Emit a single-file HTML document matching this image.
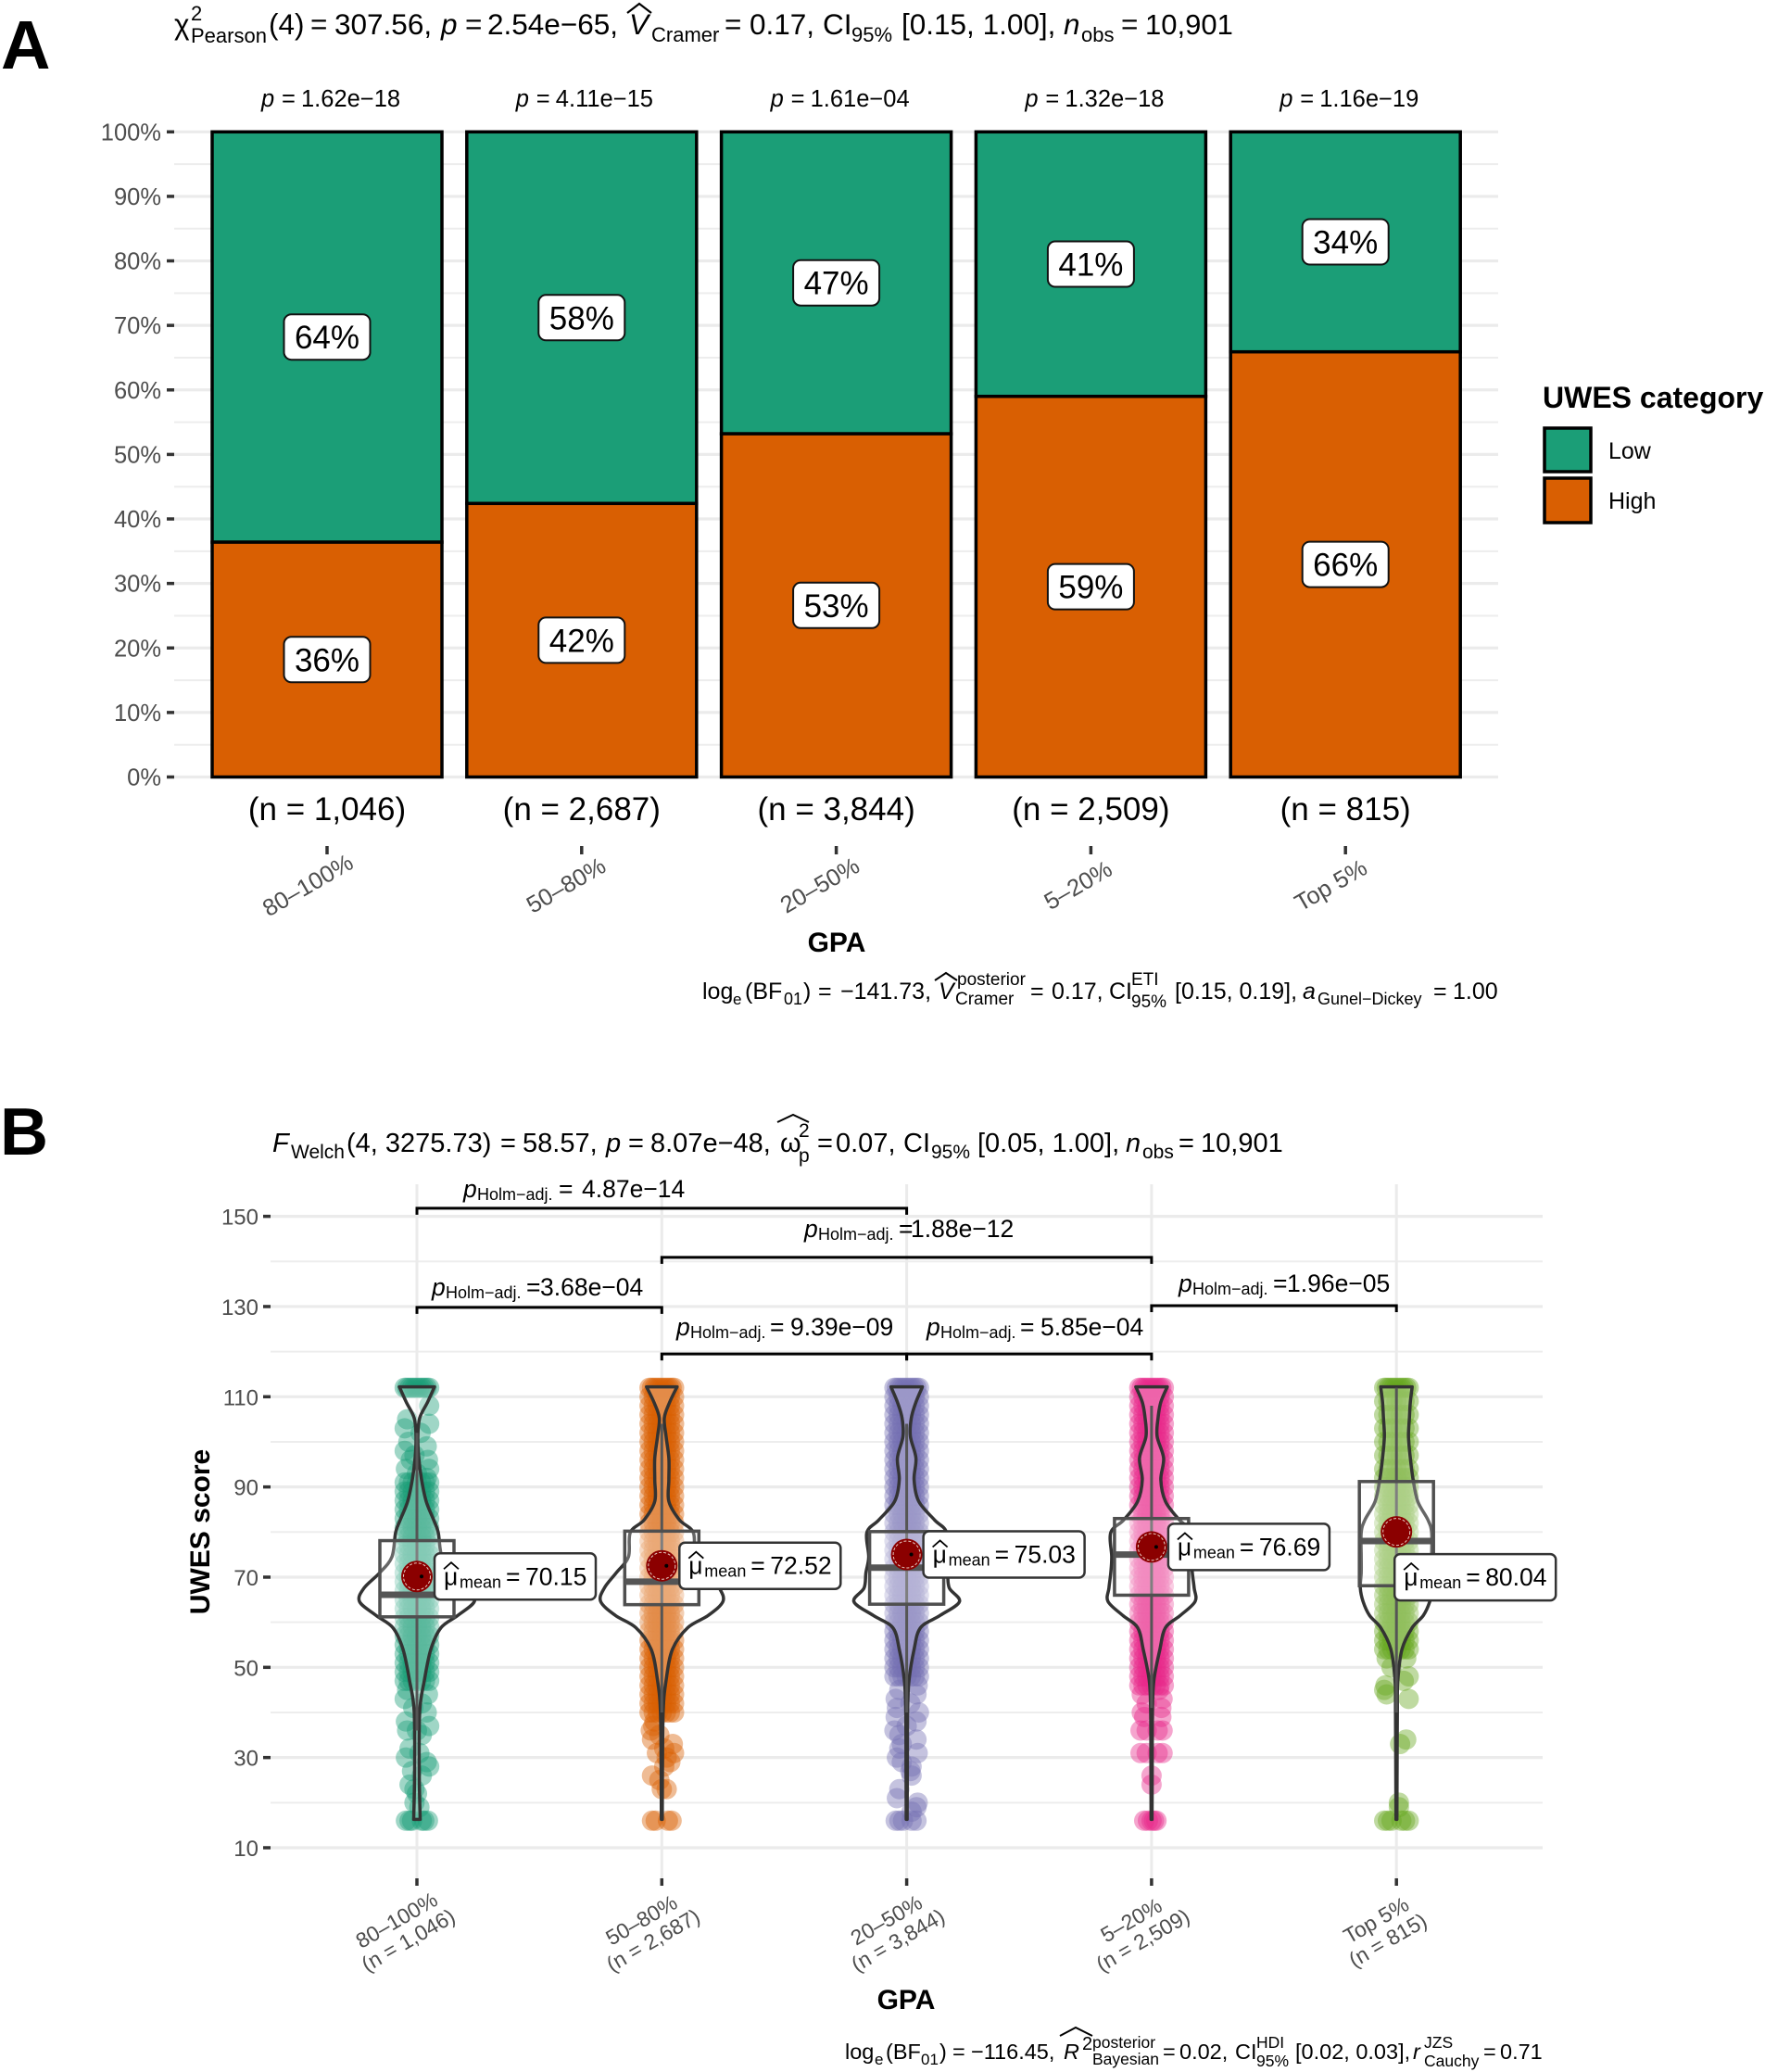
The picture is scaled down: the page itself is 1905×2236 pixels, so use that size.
<!DOCTYPE html>
<html lang="en">
<head>
<meta charset="utf-8">
<title>UWES score by GPA</title>
<style>
html,body{margin:0;padding:0;background:#fff}
svg{display:block;font-family:"Liberation Sans",Arial,sans-serif}
text{fill:#000}
.i{font-style:italic}
</style>
</head>
<body>
<svg id="fig" xmlns="http://www.w3.org/2000/svg" width="1905" height="2236" viewBox="0 0 1905 2236">
<rect x="0" y="0" width="1905" height="2236" fill="#fff"/>

<text x="1" y="74" font-size="74" font-weight="700">A</text>
<text x="0" y="1246" font-size="72" font-weight="700">B</text>

<g id="panelA"></g>
<g id="panelB"></g>

<!-- Panel A title -->
<g>
<text font-size="31.5" y="37">
<tspan x="188" y="37">χ</tspan><tspan x="206" y="22" font-size="22">2</tspan><tspan x="206" y="46" font-size="22">Pearson</tspan>
<tspan x="290" y="37">(4)</tspan><tspan x="335">=</tspan><tspan x="361">307.56,</tspan>
<tspan x="476" class="i">p</tspan><tspan x="502">=</tspan><tspan x="526">2.54e−65,</tspan>
<tspan x="679" class="i">V</tspan><tspan x="703" y="45" font-size="22">Cramer</tspan>
<tspan x="782" y="37">=</tspan><tspan x="809">0.17,</tspan><tspan x="888">CI</tspan>
<tspan x="919" y="45" font-size="22">95%</tspan><tspan x="973" y="37">[0.15, 1.00],</tspan>
<tspan x="1148" class="i">n</tspan><tspan x="1167" y="45" font-size="22">obs</tspan>
<tspan x="1210" y="37">=</tspan><tspan x="1236" font-size="31">10,901</tspan>
</text>
<polyline points="677,14 690,4 703,14" fill="none" stroke="#000" stroke-width="2.2"/>
</g>

<!-- Panel A footer -->
<g>
<text font-size="25" y="1078">
<tspan x="758" y="1078">log</tspan><tspan x="791" y="1084" font-size="17">e</tspan><tspan x="804" y="1078">(BF</tspan><tspan x="846" y="1084" font-size="18">01</tspan><tspan x="867" y="1078">)</tspan>
<tspan x="883">=</tspan><tspan x="907">−141.73,</tspan><tspan x="1013" class="i">V</tspan>
<tspan x="1033" y="1063" font-size="19">posterior</tspan><tspan x="1031" y="1084" font-size="19">Cramer</tspan>
<tspan x="1112" y="1078">=</tspan><tspan x="1135">0.17,</tspan><tspan x="1197">CI</tspan>
<tspan x="1221" y="1063" font-size="19">ETI</tspan><tspan x="1221" y="1087" font-size="19">95%</tspan>
<tspan x="1268" y="1078">[0.15, 0.19],</tspan><tspan x="1406" class="i">a</tspan>
<tspan x="1422" y="1084" font-size="18">Gunel−Dickey</tspan>
<tspan x="1547" y="1078">=</tspan><tspan x="1568">1.00</tspan>
</text>
<polyline points="1009,1058 1021,1050 1033,1058" fill="none" stroke="#000" stroke-width="2"/>
</g>

<!-- Panel B title -->
<g>
<text font-size="29" y="1243">
<tspan x="294" y="1243" class="i">F</tspan><tspan x="314" y="1250" font-size="21">Welch</tspan>
<tspan x="374" y="1243">(4, 3275.73)</tspan><tspan x="540">=</tspan><tspan x="564">58.57,</tspan>
<tspan x="654" class="i">p</tspan><tspan x="678">=</tspan><tspan x="702">8.07e−48,</tspan>
<tspan x="842">ω</tspan><tspan x="862" y="1227" font-size="21">2</tspan><tspan x="862" y="1254" font-size="21">p</tspan>
<tspan x="882" y="1243">=</tspan><tspan x="902">0.07,</tspan><tspan x="975">CI</tspan>
<tspan x="1005" y="1250" font-size="21">95%</tspan><tspan x="1055" y="1243">[0.05, 1.00],</tspan>
<tspan x="1215" class="i">n</tspan><tspan x="1233" y="1250" font-size="21">obs</tspan>
<tspan x="1272" y="1243">=</tspan><tspan x="1296">10,901</tspan>
</text>
<polyline points="839,1211 856,1203 873,1211" fill="none" stroke="#000" stroke-width="2"/>
</g>

<!-- Panel B bracket labels -->
<g font-size="26.5">
<text><tspan x="500" y="1292" class="i">p</tspan><tspan x="515" y="1295" font-size="18">Holm−adj.</tspan><tspan x="603" y="1292">=</tspan><tspan x="628">4.87e−14</tspan></text>
<text><tspan x="868" y="1335" class="i">p</tspan><tspan x="883" y="1338" font-size="18">Holm−adj.</tspan><tspan x="970" y="1335">=</tspan><tspan x="983">1.88e−12</tspan></text>
<text><tspan x="466" y="1398" class="i">p</tspan><tspan x="481" y="1401" font-size="18">Holm−adj.</tspan><tspan x="568" y="1398">=</tspan><tspan x="583">3.68e−04</tspan></text>
<text><tspan x="730" y="1441" class="i">p</tspan><tspan x="745" y="1444" font-size="18">Holm−adj.</tspan><tspan x="831" y="1441">=</tspan><tspan x="853">9.39e−09</tspan></text>
<text><tspan x="1000" y="1441" class="i">p</tspan><tspan x="1015" y="1444" font-size="18">Holm−adj.</tspan><tspan x="1101" y="1441">=</tspan><tspan x="1123">5.85e−04</tspan></text>
<text><tspan x="1272" y="1394" class="i">p</tspan><tspan x="1287" y="1397" font-size="18">Holm−adj.</tspan><tspan x="1374" y="1394">=</tspan><tspan x="1389">1.96e−05</tspan></text>
</g>

<!-- Panel B footer -->
<g>
<text font-size="23.5" y="2222">
<tspan x="912" y="2222">log</tspan><tspan x="944" y="2228" font-size="17">e</tspan><tspan x="956" y="2222">(BF</tspan><tspan x="994" y="2228" font-size="17">01</tspan><tspan x="1014" y="2222">)</tspan>
<tspan x="1028">=</tspan><tspan x="1048">−116.45,</tspan>
<tspan x="1148" class="i">R</tspan><tspan x="1168" y="2212" font-size="20">2</tspan>
<tspan x="1179" y="2210" font-size="17.5">posterior</tspan><tspan x="1179" y="2228" font-size="17.5">Bayesian</tspan>
<tspan x="1255" y="2222">=</tspan><tspan x="1273">0.02,</tspan><tspan x="1333">CI</tspan>
<tspan x="1356" y="2210" font-size="17.5">HDI</tspan><tspan x="1356" y="2230" font-size="17.5">95%</tspan>
<tspan x="1398" y="2222">[0.02, 0.03],</tspan><tspan x="1525" class="i">r</tspan>
<tspan x="1537" y="2210" font-size="17.5">JZS</tspan><tspan x="1537" y="2230" font-size="17.5">Cauchy</tspan>
<tspan x="1601" y="2222">=</tspan><tspan x="1619">0.71</tspan>
</text>
<polyline points="1144,2197 1161,2188 1179,2197" fill="none" stroke="#000" stroke-width="2"/>
</g>

<!-- Legend -->
<g>
<text x="1665" y="440" font-size="32" font-weight="700">UWES category</text>
<rect x="1667" y="462" width="50" height="47" fill="#1B9E77" stroke="#000" stroke-width="3.5"/>
<rect x="1667" y="516" width="50" height="48" fill="#D95F02" stroke="#000" stroke-width="3.5"/>
<text x="1736" y="495" font-size="25">Low</text>
<text x="1736" y="549" font-size="25">High</text>
</g>
</svg>

<script>
// ---------- Panel A data ----------
const gpaCategories = ['80–100%', '50–80%', '20–50%', '5–20%', 'Top 5%'];
const groupSizes = ['1,046', '2,687', '3,844', '2,509', '815'];
const highShare = [36.4, 42.4, 53.2, 59.0, 65.9];
const pValuesA = ['1.62e−18', '4.11e−15', '1.61e−04', '1.32e−18', '1.16e−19'];
const percentTicks = [0, 10, 20, 30, 40, 50, 60, 70, 80, 90, 100];
const percentMinorTicks = [5, 15, 25, 35, 45, 55, 65, 75, 85, 95];

// ---------- Panel B data ----------
const scoreTicks = [10, 30, 50, 70, 90, 110, 130, 150];
const scoreMinorTicks = [20, 40, 60, 80, 100, 120, 140];
const means = [70.15, 72.52, 75.03, 76.69, 80.04];
const q1 = [61.2, 63.9, 64.0, 66.0, 68.1];
const medians = [66.1, 69.0, 72.1, 75.0, 78.0];
const q3 = [78.1, 80.2, 80.1, 83.0, 91.2];
const whiskerLow = [36, 40, 40, 41, 40];
const whiskerHigh = [102, 104, 104, 108, 112];
const bracketFrom = [0, 1, 0, 1, 2, 3];
const bracketTo = [2, 3, 1, 2, 3, 4];
const bracketLevel = [151.8, 140.9, 129.8, 119.5, 119.5, 130.2];

// violin density profile, shared score grid
const violinScores = [112.2,108.8,105.3,101.2,96.4,91.6,86.8,82.7,79.9,74.5,71,67.6,64.6,61.5,58.8,54,47.1,40.3,26.6,16.3];
const densityG1 = [19,11.5,3,1,2,5,10,18,23,27,40,57,62,44,26,15,8,3,2.5,3.5];
const densityG2 = [16.5,8.5,2.7,4.6,7.6,7.6,7.6,19,34,36,49,62,66,50,28,11.5,4.6,1.5,0.7,0.5];
const densityG3 = [17,10,5,4,10,8,13,30,43,41,44,46,57,36,15,8,2.5,1,0.7,0.5];
const densityG4 = [17,10,7,6,13,10,15,30,44,43,44,46,47,31,15,9,2.5,1,0.7,0.5];
const densityG5 = [17,15,14,13,15,18,23,34,38,38,38,39,36,29,17,6,1.5,1,0.7,0.5];

// jittered raw scores: ceiling row, dense core rows
const ceilingScore = 112;
const ceilingJitter = [-5,-4,-3,-2,-1,0,1,2,3,4,5];
const coreG1 = [47,49,51,53,55,57,59,61,63,65,67,69,71,73,75,77,79,81,83,85,87,89,91];
const coreG2 = [40,42,44,46,48,50,52,54,56,58,60,62,64,66,68,70,72,74,76,78,80,82,84,86,88,90,92,94,96,98,100,102,104,106,108,110];
const coreG3 = [48,50,52,54,56,58,60,62,64,66,68,70,72,74,76,78,80,82,84,86,88,90,92,94,96,98,100,102,104,106,108,110];
const coreG4 = [46,48,50,52,54,56,58,60,62,64,66,68,70,72,74,76,78,80,82,84,86,88,90,92,94,96,98,100,102,104,106,108,110];
const coreG5 = [54,56,58,60,62,64,66,68,70,72,74,76,78,80,82,84,86,88,90,92,94,97,100,103,106,109];
const coreJitter = [-5, -3.3, -1.7, 0, 1.7, 3.3, 5];

// jittered raw scores: individually visible points [score, jitter]
const tailG1 = [[108,5],[105,-4],[104,5],[103,-5],[102,1.5],[100,-3.5],[99,4],[98,-5],[97,-1],[96,4.5],[96,-2.5],[94,5],[94,-4.5],[93,0],[92,4],[45,-4],[44,4.5],[43,-5],[42,2],[41,-1.5],[40,4],[38,-4.5],[37,5],[36,-4],[36,0],[35,2],[32,-3],[31,1],[30,-4.5],[29,4],[28,5],[27,-2],[26,2],[24,-3],[23,-1],[22,0],[20,-1],[19,1],[16,-4.5],[16,-3],[16,-2],[16,2],[16,3],[16,4.5]];
const tailG2 = [[38,-3],[37,-3.5],[36,-4.5],[35,-1],[34,-4],[33,4.5],[32,1],[31,-2],[31,5],[30,2],[29,3.5],[28,1],[26,-4],[25,-1],[23,0],[23,2],[16,-4],[16,-2.5],[16,2.5],[16,4]];
const tailG3 = [[46,4.5],[45,-3],[44,4],[43,-4.5],[42,1.5],[41,-4],[40,5],[39,-4.5],[38,4],[37,0],[36,-5],[35,-3],[34,4],[33,-2],[32,-3],[31,4.5],[30,-4],[29,-2],[28,2],[27,1.5],[26,2],[23,-3],[21,-4],[20,4.5],[19,4],[18,2],[16,-4.5],[16,-3],[16,-1.5],[16,2],[16,4]];
const tailG4 = [[45,3],[44,-4],[43,4.5],[42,-2],[41,4],[40,-4],[39,-3],[39,4],[36,-4.5],[36,-2],[36,2.5],[36,4.5],[31,-4.5],[31,-2],[31,2.5],[31,4.5],[26,0],[24,0],[16,-3],[16,-1.5],[16,0],[16,1],[16,2]];
const tailG5 = [[52,-4],[52,4],[50,-2],[48,5],[47,3],[46,-4.5],[45,-5],[44,-4],[43,5],[34,4],[33,1.5],[20,1],[19,1],[16,-5],[16,-3.5],[16,-2],[16,2],[16,3.5],[16,5]];

const fillsB = ['#1B9E77', '#D95F02', '#7570B3', '#E7298A', '#66A61E'];

// ---------- helpers ----------
const SVGNS = 'http://www.w3.org/2000/svg';
function mk(tag, attrs, parent) {
  const el = document.createElementNS(SVGNS, tag);
  for (const k in attrs) el.setAttribute(k, attrs[k]);
  parent.appendChild(el);
  return el;
}
const panelA = document.getElementById('panelA');
const panelB = document.getElementById('panelB');

// axis functions
const yA = p => 838.5 - p * 6.962;
const xA = i => 353 + i * 274.8;
const yB = s => 1994 - (s - 10) * 4.867;
const xB = i => 450 + i * 264.3;
const jitterPx = j => j * 2.64;
const densityScale = 1;
const xLabelShiftA = [-21, -17, -18, -14, -16];

// ---------- Panel A ----------
percentMinorTicks.forEach(function (p) {
  const el = mk('line', {x1: 188, x2: 1617, y1: yA(p), y2: yA(p), stroke: '#ededed', 'stroke-width': 2}, panelA);
  
  
});
percentTicks.forEach(function (p) {
  const g = mk('line', {x1: 188, x2: 1617, y1: yA(p), y2: yA(p), stroke: '#ebebeb', 'stroke-width': 3.2}, panelA);
  
  
  const t = mk('line', {x1: 180, x2: 188, y1: yA(p), y2: yA(p), stroke: '#333', 'stroke-width': 3.5}, panelA);
  
  
  const l = mk('text', {x: 174, y: yA(p) + 9, 'font-size': 25.5, 'text-anchor': 'end', style: 'fill:#4d4d4d'}, panelA);
  l.textContent = p + '%';
  
  
});
gpaCategories.forEach(function (c, i) {
  const cx = xA(i), h = highShare[i], w = 248;
  const low = mk('rect', {x: cx - w / 2, y: yA(100), width: w, height: yA(h) - yA(100), fill: '#1B9E77', stroke: '#000', 'stroke-width': 3.5}, panelA);
  
  
  const high = mk('rect', {x: cx - w / 2, y: yA(h), width: w, height: yA(0) - yA(h), fill: '#D95F02', stroke: '#000', 'stroke-width': 3.5}, panelA);
  
  

  [[(100 + h) / 2, 100 - h], [h / 2, h]].forEach(function (seg) {
    const cy = yA(seg[0]);
    const b = mk('rect', {x: cx - 46.5, y: cy - 24.5, width: 93, height: 49, rx: 8, fill: '#fff', stroke: '#111', 'stroke-width': 2}, panelA);
    
    
    const t = mk('text', {x: cx, y: cy + 12.5, 'font-size': 35, 'text-anchor': 'middle'}, panelA);
    t.textContent = Math.round(seg[1]) + '%';
    
    
  });

  const pl = mk('text', {y: 115, 'font-size': 25.5}, panelA);
  pl.innerHTML = '<tspan class="i" x="' + (cx - 71) + '">p</tspan><tspan x="' + (cx - 49) + '">=</tspan><tspan x="' + (cx - 28) + '">' + pValuesA[i] + '</tspan>';
  
  

  const n = mk('text', {x: cx, y: 885, 'font-size': 35, 'text-anchor': 'middle'}, panelA);
  n.textContent = '(n = ' + groupSizes[i] + ')';
  
  

  const tk = mk('line', {x1: cx, x2: cx, y1: 913, y2: 922, stroke: '#333', 'stroke-width': 3.5}, panelA);
  
  

  const xl = mk('text', {'font-size': 25.5, 'text-anchor': 'middle', transform: 'translate(' + (cx + xLabelShiftA[i]) + ',955) rotate(-30)', y: 9, style: 'fill:#4d4d4d'}, panelA);
  xl.textContent = c;
  
  
});
const gpaA = mk('text', {x: 903, y: 1027, 'font-size': 30, 'font-weight': 700, 'text-anchor': 'middle'}, panelA);
gpaA.textContent = 'GPA';



// ---------- Panel B ----------
scoreMinorTicks.forEach(function (s) {
  const el = mk('line', {x1: 292, x2: 1665, y1: yB(s), y2: yB(s), stroke: '#ededed', 'stroke-width': 2}, panelB);
  
  
});
scoreTicks.forEach(function (s) {
  const g = mk('line', {x1: 292, x2: 1665, y1: yB(s), y2: yB(s), stroke: '#ebebeb', 'stroke-width': 3.2}, panelB);
  
  
  const t = mk('line', {x1: 284, x2: 292, y1: yB(s), y2: yB(s), stroke: '#333', 'stroke-width': 3.5}, panelB);
  
  
  const l = mk('text', {x: 279, y: yB(s) + 9, 'font-size': 24, 'text-anchor': 'end', style: 'fill:#4d4d4d'}, panelB);
  l.textContent = s;
  
  
});
const yTitle = mk('text', {'font-size': 30, 'font-weight': 700, 'text-anchor': 'middle', transform: 'translate(226,1653) rotate(-90)'}, panelB);
yTitle.textContent = 'UWES score';



gpaCategories.forEach(function (c, i) {
  const cx = xB(i);
  const v = mk('line', {x1: cx, x2: cx, y1: 1278, y2: 2027, stroke: '#ebebeb', 'stroke-width': 3}, panelB);
  
  
  const t = mk('line', {x1: cx, x2: cx, y1: 2027, y2: 2035, stroke: '#333', 'stroke-width': 3.5}, panelB);
  
  
  const l = mk('text', {'font-size': 23, 'text-anchor': 'middle', transform: 'translate(' + (cx - 22) + ',2072) rotate(-30)', style: 'fill:#4d4d4d'}, panelB);
  l.innerHTML = '<tspan x="0" y="8">' + c + '</tspan><tspan x="0" y="33">(n = ' + groupSizes[i] + ')</tspan>';
  
  
});
const gpaB = mk('text', {x: 978, y: 2168, 'font-size': 30, 'font-weight': 700, 'text-anchor': 'middle'}, panelB);
gpaB.textContent = 'GPA';



bracketFrom.forEach(function (f, k) {
  const y = yB(bracketLevel[k]);
  const d = 'M' + xB(f) + ' ' + (y + 7) + 'V' + y + 'H' + xB(bracketTo[k]) + 'V' + (y + 7);
  const b = mk('path', {d: d, fill: 'none', stroke: '#000', 'stroke-width': 3}, panelB);
  
  
});

function smooth(pts) {
  let d = '';
  for (let i = 0; i < pts.length - 1; i++) {
    const p0 = pts[Math.max(0, i - 1)], p1 = pts[i], p2 = pts[i + 1], p3 = pts[Math.min(pts.length - 1, i + 2)];
    d += 'C' + (p1[0] + (p2[0] - p0[0]) / 6) + ' ' + (p1[1] + (p2[1] - p0[1]) / 6) + ' ' +
         (p2[0] - (p3[0] - p1[0]) / 6) + ' ' + (p2[1] - (p3[1] - p1[1]) / 6) + ' ' + p2[0] + ' ' + p2[1];
  }
  return d;
}

const coresB = [coreG1, coreG2, coreG3, coreG4, coreG5];
const tailsB = [tailG1, tailG2, tailG3, tailG4, tailG5];
const densitiesB = [densityG1, densityG2, densityG3, densityG4, densityG5];
const labelDx = [19, 19, 18, 18, -2];
const labelDy = [0, 0, 0, 0, 49];

gpaCategories.forEach(function (c, i) {
  const cx = xB(i), fill = fillsB[i];
  const pts = mk('g', {fill: fill, 'fill-opacity': 0.42}, panelB);
  
  
  ceilingJitter.forEach(function (j) {
    const dot = mk('circle', {cx: cx + jitterPx(j), cy: yB(ceilingScore), r: 11}, pts);
    
    
  });
  coresB[i].forEach(function (s) {
    coreJitter.forEach(function (j) {
      const dot = mk('circle', {cx: cx + jitterPx(j), cy: yB(s), r: 11}, pts);
      
      
    });
  });
  tailsB[i].forEach(function (p) {
    const dot = mk('circle', {cx: cx + jitterPx(p[1]), cy: yB(p[0]), r: 11}, pts);
    
    
  });

  const right = violinScores.map((s, k) => [cx + densitiesB[i][k] * densityScale, yB(s)]);
  const left = violinScores.map((s, k) => [cx - densitiesB[i][k] * densityScale, yB(s)]).reverse();
  const dv = 'M' + right[0][0] + ' ' + right[0][1] + smooth(right) + 'L' + left[0][0] + ' ' + left[0][1] + smooth(left) + 'Z';
  const viol = mk('path', {d: dv, fill: '#fff', 'fill-opacity': 0.28, stroke: '#333', 'stroke-width': 3.5, 'stroke-linejoin': 'round'}, panelB);
  
  

  const wh = mk('line', {x1: cx, x2: cx, y1: yB(whiskerHigh[i]), y2: yB(whiskerLow[i]), stroke: '#555', 'stroke-width': 3}, panelB);
  
  
  const box = mk('rect', {x: cx - 40, y: yB(q3[i]), width: 80, height: yB(q1[i]) - yB(q3[i]), fill: '#fff', 'fill-opacity': 0.25, stroke: '#4f4f4f', 'stroke-width': 3.5}, panelB);
  
  
  const med = mk('line', {x1: cx - 40, x2: cx + 40, y1: yB(medians[i]), y2: yB(medians[i]), stroke: '#555', 'stroke-width': 7}, panelB);
  
  

  const my = yB(means[i]);
  const mc = mk('circle', {cx: cx, cy: my, r: 17, fill: '#8b0000'}, panelB);
  
  
  const mr = mk('circle', {cx: cx, cy: my, r: 14.5, fill: 'none', stroke: '#e6c9c0', 'stroke-width': 1, 'stroke-dasharray': '3 2'}, panelB);
  
  
  if (i < 4) {
    const md = mk('circle', {cx: cx + 5, cy: my, r: 2, fill: '#000'}, panelB);
    
    
  }

  const bx = cx + labelDx[i], bc = my + labelDy[i];
  const lg = mk('g', {}, panelB);
  
  
  const lb = mk('rect', {x: bx, y: bc - 25, width: 174, height: 50, rx: 6, fill: '#fff', stroke: '#333', 'stroke-width': 2.5}, lg);
  
  
  const lt = mk('text', {'font-size': 26.5}, lg);
  lt.innerHTML = '<tspan x="' + (bx + 10) + '" y="' + (bc + 9) + '">μ</tspan><tspan x="' + (bx + 27) + '" y="' + (bc + 12) + '" font-size="18">mean</tspan><tspan x="' + (bx + 77) + '" y="' + (bc + 9) + '">=</tspan><tspan x="' + (bx + 98) + '">' + means[i].toFixed(2) + '</tspan>';
  
  
  const hat = mk('polyline', {points: (bx + 10) + ',' + (bc - 8) + ' ' + (bx + 18) + ',' + (bc - 15) + ' ' + (bx + 26) + ',' + (bc - 8), fill: 'none', stroke: '#000', 'stroke-width': 1.8}, lg);
  
  
});
</script>
</body>
</html>
